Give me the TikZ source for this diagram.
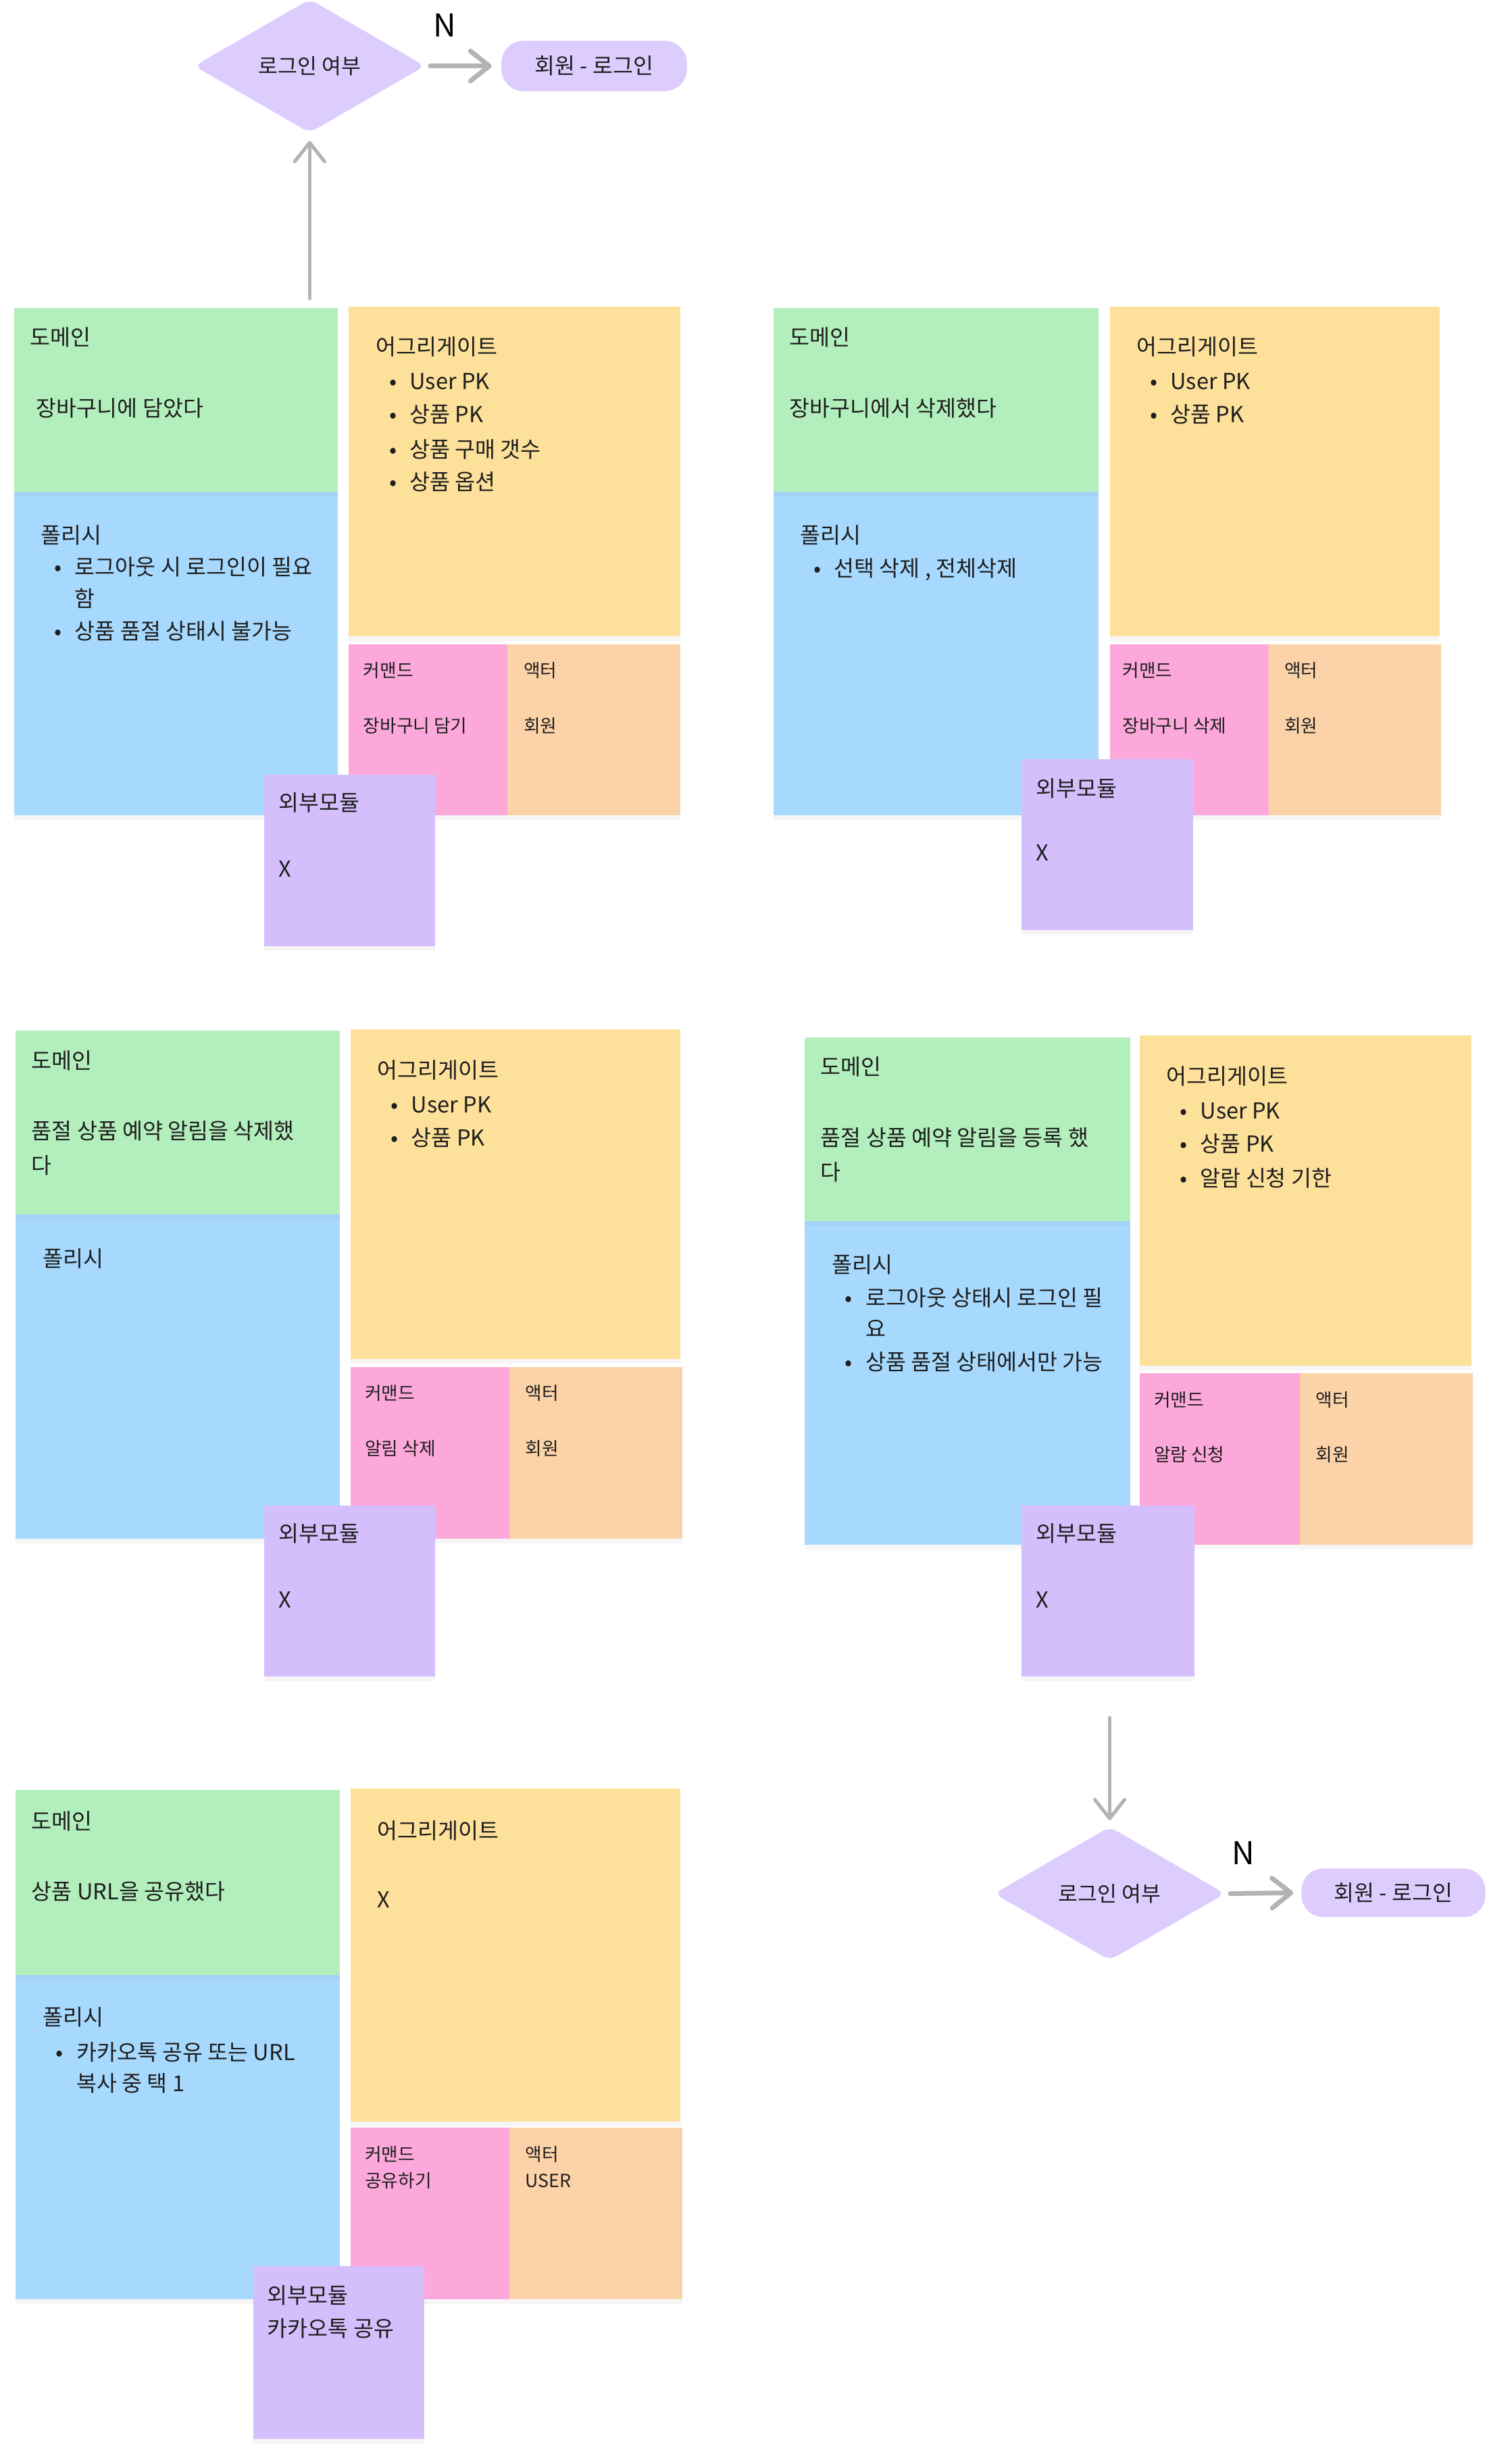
\documentclass[tikz,border=0pt]{standalone}
\usepackage{fontspec}
\setmainfont{Noto Sans CJK KR}
\usetikzlibrary{shapes.geometric,arrows.meta,shadows}
\definecolor{cDom}{HTML}{B3EFBD}
\definecolor{cPol}{HTML}{A7D9FE}
\definecolor{cAgg}{HTML}{FDE09A}
\definecolor{cCmd}{HTML}{FDA8DA}
\definecolor{cAct}{HTML}{FCD3A8}
\definecolor{cExt}{HTML}{D4BFFC}
\definecolor{cDec}{HTML}{DDCDFF}
\definecolor{cArr}{HTML}{B3B3B3}
\definecolor{cTxt}{HTML}{1E1E1E}
\newcommand\fmain{\fontsize{14}{17}\selectfont}
\newcommand\fsmall{\fontsize{11.5}{14}\selectfont}
\tikzset{
  note/.style={draw=none, inner sep=0pt, outer sep=0pt, anchor=north west,
    drop shadow={opacity=0.07, shadow xshift=0pt, shadow yshift=-3pt}},
  tm/.style={inner sep=0pt, text=cTxt, font=\fmain, anchor=base west},
  ts/.style={inner sep=0pt, text=cTxt, font=\fsmall, anchor=base west},
  decision/.style={diamond, fill=cDec, draw=none, minimum width=147pt, minimum height=85pt,
    inner sep=0pt, rounded corners=5pt, font=\fontsize{13.5}{16}\selectfont, text=cTxt},
  pill/.style={rectangle, fill=cDec, draw=none, rounded corners=14pt, minimum width=118pt,
    minimum height=32pt, inner sep=0pt, font=\fmain, text=cTxt},
  flow/.style={draw=cArr, line width=2.2pt, line cap=round,
    -{Straight Barb[length=12pt,width=19pt,round]}},
  nlabel/.style={inner sep=0pt, font=\fontsize{20}{22}\selectfont, text=black}
}
\newcommand\bitem[4]{%
  \node[tm] (#1) at (#2+10.5,#3) {#4};
  \node[tm, anchor=base] (#1b) at (#2,#3) {•};}
\begin{document}
\begin{tikzpicture}[x=1pt,y=-1pt]
\useasboundingbox[fill=white] (0,0) rectangle (946,1568);

% ---------- top flow ----------
\node[decision] (dec1) at (197,42) {로그인 여부};
\node[pill] (login1) at (378,42) {회원 - 로그인};
\node[nlabel] (n1) at (283,16) {N};
\coordinate (up1) at (197,190);
\draw[flow, line width=3pt] ([xshift=3pt]dec1.east) -- ([xshift=-6pt]login1.west);
\draw[flow] (up1) -- ([yshift=-5pt]dec1.south);

% ---------- group 1 ----------
\node[note, fill=cPol, minimum width=206pt, minimum height=206pt] (g1pol) at (9,313) {};
\node[note, fill=cDom, minimum width=206pt, minimum height=117pt] (g1dom) at (9,196) {};
\node[note, fill=cAgg, minimum width=211pt, minimum height=210pt] (g1agg) at (222,195) {};
\node[note, fill=cAct, minimum width=110pt, minimum height=109pt] (g1act) at (323,410) {};
\node[note, fill=cCmd, minimum width=101pt, minimum height=109pt] (g1cmd) at (222,410) {};
\node[note, fill=cExt, minimum width=109pt, minimum height=109pt] (g1ext) at (168,493) {};
\node[tm] (g1t1) at (19,220) {도메인};
\node[tm] (g1t2) at (23,265) {장바구니에 담았다};
\node[tm] (g1t3) at (26,346) {폴리시};
\bitem{g1p1}{37}{366}{로그아웃 시 로그인이 필요}
\node[tm] (g1p1c) at (47.5,386) {함};
\bitem{g1p2}{37}{407}{상품 품절 상태시 불가능}
\node[tm] (g1t4) at (239,226) {어그리게이트};
\bitem{g1a1}{250}{248}{User PK}
\bitem{g1a2}{250}{269}{상품 PK}
\bitem{g1a3}{250}{291}{상품 구매 갯수}
\bitem{g1a4}{250}{312}{상품 옵션}
\node[ts] (g1c1) at (231,431) {커맨드};
\node[ts] (g1c2) at (231,466) {장바구니 담기};
\node[ts] (g1r1) at (333,431) {액터};
\node[ts] (g1r2) at (333,466) {회원};
\node[tm] (g1e1) at (177,516) {외부모듈};
\node[tm] (g1e2) at (177,558) {X};

% ---------- group 2 ----------
\node[note, fill=cPol, minimum width=207pt, minimum height=206pt] (g2pol) at (492,313) {};
\node[note, fill=cDom, minimum width=207pt, minimum height=117pt] (g2dom) at (492,196) {};
\node[note, fill=cAgg, minimum width=210pt, minimum height=210pt] (g2agg) at (706,195) {};
\node[note, fill=cAct, minimum width=110pt, minimum height=109pt] (g2act) at (807,410) {};
\node[note, fill=cCmd, minimum width=101pt, minimum height=109pt] (g2cmd) at (706,410) {};
\node[note, fill=cExt, minimum width=109pt, minimum height=109pt] (g2ext) at (650,483) {};
\node[tm] (g2t1) at (502,220) {도메인};
\node[tm] (g2t2) at (502,265) {장바구니에서 삭제했다};
\node[tm] (g2t3) at (509,346) {폴리시};
\bitem{g2p1}{520}{367}{선택 삭제 , 전체삭제}
\node[tm] (g2t4) at (723,226) {어그리게이트};
\bitem{g2a1}{734}{248}{User PK}
\bitem{g2a2}{734}{269}{상품 PK}
\node[ts] (g2c1) at (714,431) {커맨드};
\node[ts] (g2c2) at (714,466) {장바구니 삭제};
\node[ts] (g2r1) at (817,431) {액터};
\node[ts] (g2r2) at (817,466) {회원};
\node[tm] (g2e1) at (659,507) {외부모듈};
\node[tm] (g2e2) at (659,548) {X};

% ---------- group 3 ----------
\node[note, fill=cPol, minimum width=206pt, minimum height=206pt] (g3pol) at (10,773) {};
\node[note, fill=cDom, minimum width=206pt, minimum height=117pt] (g3dom) at (10,656) {};
\node[note, fill=cAgg, minimum width=210pt, minimum height=210pt] (g3agg) at (223,655) {};
\node[note, fill=cAct, minimum width=110pt, minimum height=109pt] (g3act) at (324,870) {};
\node[note, fill=cCmd, minimum width=101pt, minimum height=109pt] (g3cmd) at (223,870) {};
\node[note, fill=cExt, minimum width=109pt, minimum height=109pt] (g3ext) at (168,958) {};
\node[tm] (g3t1) at (20,680) {도메인};
\node[tm] (g3t2) at (20,725) {품절 상품 예약 알림을 삭제했};
\node[tm] (g3t2b) at (20,747) {다};
\node[tm] (g3t3) at (27,806) {폴리시};
\node[tm] (g3t4) at (240,686) {어그리게이트};
\bitem{g3a1}{251}{708}{User PK}
\bitem{g3a2}{251}{729}{상품 PK}
\node[ts] (g3c1) at (232,891) {커맨드};
\node[ts] (g3c2) at (232,926) {알림 삭제};
\node[ts] (g3r1) at (334,891) {액터};
\node[ts] (g3r2) at (334,926) {회원};
\node[tm] (g3e1) at (177,981) {외부모듈};
\node[tm] (g3e2) at (177,1023) {X};

% ---------- group 4 ----------
\node[note, fill=cPol, minimum width=207pt, minimum height=206pt] (g4pol) at (512,777) {};
\node[note, fill=cDom, minimum width=207pt, minimum height=117pt] (g4dom) at (512,660) {};
\node[note, fill=cAgg, minimum width=211pt, minimum height=210pt] (g4agg) at (725,659) {};
\node[note, fill=cAct, minimum width=110pt, minimum height=109pt] (g4act) at (827,874) {};
\node[note, fill=cCmd, minimum width=102pt, minimum height=109pt] (g4cmd) at (725,874) {};
\node[note, fill=cExt, minimum width=110pt, minimum height=109pt] (g4ext) at (650,958) {};
\node[tm] (g4t1) at (522,684) {도메인};
\node[tm] (g4t2) at (522,729) {품절 상품 예약 알림을 등록 했};
\node[tm] (g4t2b) at (522,751) {다};
\node[tm] (g4t3) at (529,810) {폴리시};
\bitem{g4p1}{540}{831}{로그아웃 상태시 로그인 필}
\node[tm] (g4p1c) at (550.5,851) {요};
\bitem{g4p2}{540}{872}{상품 품절 상태에서만 가능}
\node[tm] (g4t4) at (742,690) {어그리게이트};
\bitem{g4a1}{753}{712}{User PK}
\bitem{g4a2}{753}{733}{상품 PK}
\bitem{g4a3}{753}{755}{알람 신청 기한}
\node[ts] (g4c1) at (734,895) {커맨드};
\node[ts] (g4c2) at (734,930) {알람 신청};
\node[ts] (g4r1) at (837,895) {액터};
\node[ts] (g4r2) at (837,930) {회원};
\node[tm] (g4e1) at (659,981) {외부모듈};
\node[tm] (g4e2) at (659,1023) {X};

% ---------- bottom-right flow ----------
\coordinate (down2) at (706,1093);
\node[decision] (dec2) at (706,1205) {로그인 여부};
\node[pill, minimum width=117pt, minimum height=31pt] (login2) at (886.5,1204.5) {회원 - 로그인};
\node[nlabel] (n2) at (791,1179) {N};
\draw[flow] (down2) -- ([yshift=4pt]dec2.north);
\draw[flow, line width=3pt] ([xshift=3pt]dec2.east) -- ([xshift=-5pt]login2.west);

% ---------- group 5 ----------
\node[note, fill=cPol, minimum width=206pt, minimum height=206pt] (g5pol) at (10,1257) {};
\node[note, fill=cDom, minimum width=206pt, minimum height=118pt] (g5dom) at (10,1139) {};
\node[note, fill=cAgg, minimum width=210pt, minimum height=212pt] (g5agg) at (223,1138) {};
\node[note, fill=cAct, minimum width=110pt, minimum height=109pt] (g5act) at (324,1354) {};
\node[note, fill=cCmd, minimum width=101pt, minimum height=109pt] (g5cmd) at (223,1354) {};
\node[note, fill=cExt, minimum width=109pt, minimum height=110pt] (g5ext) at (161,1442) {};
\node[tm] (g5t1) at (20,1164) {도메인};
\node[tm] (g5t2) at (20,1209) {상품 URL을 공유했다};
\node[tm] (g5t3) at (27,1289) {폴리시};
\bitem{g5p1}{38}{1311}{카카오톡 공유 또는 URL}
\node[tm] (g5p1c) at (48.5,1331) {복사 중 택 1};
\node[tm] (g5t4) at (240,1170) {어그리게이트};
\node[tm] (g5t5) at (240,1214) {X};
\node[ts] (g5c1) at (232,1375) {커맨드};
\node[ts] (g5c2) at (232,1392) {공유하기};
\node[ts] (g5r1) at (334,1375) {액터};
\node[ts] (g5r2) at (334,1392) {USER};
\node[tm] (g5e1) at (170,1466) {외부모듈};
\node[tm] (g5e2) at (170,1487) {카카오톡 공유};
\end{tikzpicture}
\end{document}
